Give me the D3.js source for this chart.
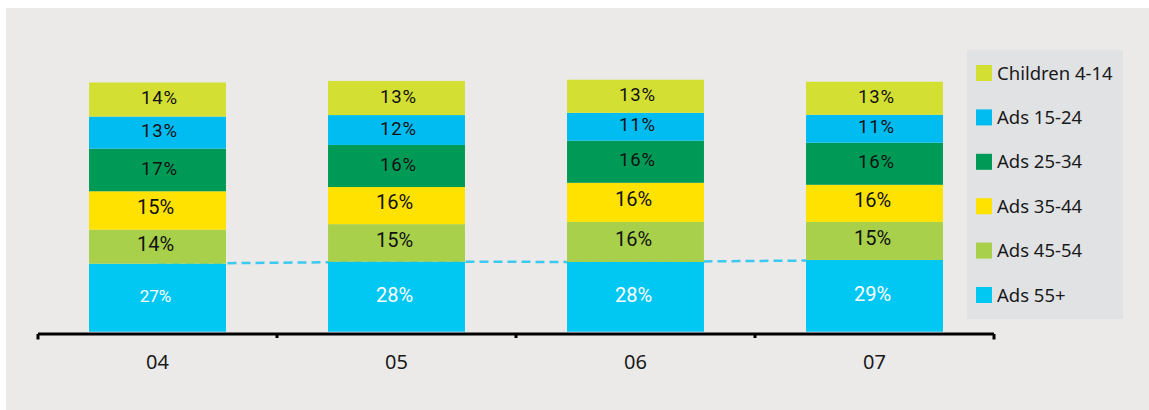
<!DOCTYPE html>
<html><head><meta charset="utf-8">
<script src="https://cdn.jsdelivr.net/npm/d3@7/dist/d3.min.js"></script>
<style>
html,body{margin:0;padding:0;background:#fff;}
svg{display:block;}
</style></head>
<body>
<svg id="chart" width="1149" height="410"></svg>
<script>
const categories = ["04", "05", "06", "07"];
const seriesNames = ["Ads 55+", "Ads 45-54", "Ads 35-44", "Ads 25-34", "Ads 15-24", "Children 4-14"];
const ads55 = [27.3, 28.1, 28.0, 28.8];
const ads45 = [13.7, 15.1, 16.1, 15.3];
const ads35 = [15.4, 14.9, 15.7, 14.9];
const ads25 = [17.1, 16.9, 16.9, 16.9];
const ads15 = [12.9, 12.0, 11.2, 11.2];
const children = [13.7, 13.7, 13.3, 13.3];
const labels55 = ["27%", "28%", "28%", "29%"];
const labels45 = ["14%", "15%", "16%", "15%"];
const labels35 = ["15%", "16%", "16%", "16%"];
const labels25 = ["17%", "16%", "16%", "16%"];
const labels15 = ["13%", "12%", "11%", "11%"];
const labelsChildren = ["14%", "13%", "13%", "13%"];
const legendOrder = ["Children 4-14", "Ads 15-24", "Ads 25-34", "Ads 35-44", "Ads 45-54", "Ads 55+"];

const seriesValues = [ads55, ads45, ads35, ads25, ads15, children];
const seriesLabels = [labels55, labels45, labels35, labels25, labels15, labelsChildren];
const colors = {
  "Ads 55+": "#00C8F3",
  "Ads 45-54": "#A9D04B",
  "Ads 35-44": "#FFE200",
  "Ads 25-34": "#009A57",
  "Ads 15-24": "#00BCF1",
  "Children 4-14": "#D4DF33"
};

const svg = d3.select("#chart");
svg.append("rect").attr("x", 6).attr("y", 8).attr("width", 1143).attr("height", 402).attr("fill", "#EBEAE8");

const x = d3.scaleBand().domain(categories).range([38, 994]).paddingInner(0.427).paddingOuter(0.2135);
const y = d3.scaleLinear().domain([0, 100]).range([331.7, 82.7]);
const step = x.step();
const cx = c => x(c) + x.bandwidth() / 2;

const table = categories.map((c, i) => {
  const row = {cat: c};
  seriesNames.forEach((s, k) => row[s] = seriesValues[k][i]);
  return row;
});
const stacked = d3.stack().keys(seriesNames)(table);

// clip paths for the upper labels
const defs = svg.append("defs");
categories.forEach((c, i) => {
  defs.append("clipPath").attr("id", "clip" + i).append("rect")
    .attr("x", x(c)).attr("y", 0).attr("width", cx(c) + 21.5 - x(c)).attr("height", 410);
});

// dashed trend line for Ads 55+ (behind bars)
const line = d3.line().x((d, i) => cx(categories[i])).y(d => y(d));
svg.append("path").datum(ads55).attr("d", line)
  .attr("fill", "none").attr("stroke", "#3CC9EF").attr("stroke-width", 2.5)
  .attr("stroke-dasharray", "9,5");

const g = svg.append("g");
stacked.forEach((layer, k) => {
  const name = seriesNames[k];
  g.selectAll(null).data(layer).enter().append("rect")
    .attr("x", (d, i) => x(categories[i]))
    .attr("width", x.bandwidth())
    .attr("y", d => y(d[1]))
    .attr("height", d => y(d[0]) - y(d[1]))
    .attr("fill", colors[name]);
});

const labelShift = [-2, -3, -4, -2, -2, -2];
stacked.forEach((layer, k) => {
  const spaced = k >= 3;
  layer.forEach((d, i) => {
    const c = categories[i];
    const t = g.append("text")
      .attr("y", (y(d[0]) + y(d[1])) / 2 + labelShift[k])
      .attr("dy", "0.36em")
      .attr("font-family", "Roboto, 'Noto Sans', sans-serif")
      .attr("fill", k === 0 ? "#FFFFFF" : "#111111")
      .text(seriesLabels[k][i]);
    if (spaced) {
      t.attr("x", cx(c) - 16.5).attr("text-anchor", "start")
        .attr("font-size", 18.5).attr("letter-spacing", 0.8)
        .attr("clip-path", "url(#clip" + i + ")");
    } else {
      t.attr("x", cx(c) - 2).attr("text-anchor", "middle")
        .attr("font-size", k === 0 ? (i === 0 ? 17 : 20) : 20);
    }
  });
});

// axis line and boundary ticks
const boundaries = categories.map(c => x(c) - step * x.paddingOuter())
  .concat([x(categories[categories.length - 1]) + x.bandwidth() + step * x.paddingOuter()]);
svg.append("line").attr("x1", boundaries[0]).attr("x2", boundaries[boundaries.length - 1])
  .attr("y1", 334).attr("y2", 334).attr("stroke", "#000").attr("stroke-width", 3);
svg.selectAll(null).data(boundaries).enter().append("line")
  .attr("x1", d => d).attr("x2", d => d)
  .attr("y1", 334).attr("y2", (d, i) => (i === 0 || i === boundaries.length - 1) ? 339.5 : 338)
  .attr("stroke", "#000").attr("stroke-width", 3);

const axis = d3.axisBottom(x).tickSize(0).tickPadding(0);
const ax = svg.append("g").attr("transform", "translate(0,362)").call(axis);
ax.select(".domain").remove();
ax.selectAll("text").attr("font-family", "'Noto Sans', sans-serif").attr("font-size", 20)
  .attr("fill", "#1a1a1a").attr("dy", "0.36em");

// legend
const lg = svg.append("g");
lg.append("rect").attr("x", 967).attr("y", 50).attr("width", 156).attr("height", 269).attr("fill", "#E1E2E4");
const ly = d3.scalePoint().domain(legendOrder).range([73, 295]);
legendOrder.forEach(name => {
  lg.append("rect").attr("x", 976).attr("y", ly(name) - 8).attr("width", 16).attr("height", 16).attr("fill", colors[name]);
  lg.append("text").attr("x", 997).attr("y", ly(name)).attr("dy", "0.36em")
    .attr("font-family", "'Noto Sans', sans-serif").attr("font-size", 18.5).attr("fill", "#1a1a1a")
    .text(name);
});
</script>
</body></html>
